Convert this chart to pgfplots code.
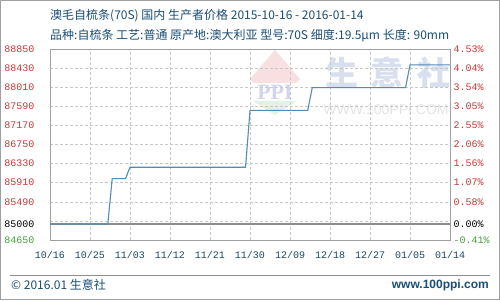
\documentclass[border=0pt]{standalone}
\usepackage{pgfplots}
\pgfplotsset{compat=1.18}
\usepackage{fontspec}
\setmainfont{Noto Sans CJK SC}
\newfontfamily\monof{Liberation Mono}
\newfontfamily\wmfont{Liberation Sans}
\newfontfamily\wmserif{Liberation Serif}
\definecolor{titleblue}{RGB}{26,78,117}
\definecolor{lblred}{RGB}{200,55,55}
\definecolor{lblgreen}{RGB}{70,160,60}
\definecolor{xlbl}{RGB}{30,72,100}
\definecolor{lineblue}{RGB}{80,140,180}
\definecolor{framegray}{RGB}{160,160,160}
\definecolor{gridgray}{RGB}{200,200,200}
\definecolor{basegray}{RGB}{140,140,140}
\definecolor{wmblue}{RGB}{216,224,237}
\definecolor{wmlav}{RGB}{208,214,236}
\definecolor{wmpink}{RGB}{249,224,224}
\definecolor{wmgreen}{RGB}{224,243,228}
\definecolor{wmgray}{RGB}{228,228,228}
\begin{document}
\begin{tikzpicture}
\fill[white] (0pt,0pt) rectangle (500pt,300pt);
% titles
\node[anchor=west, inner sep=0, text=titleblue, font=\fontsize{12}{14}\selectfont] at (50pt,284.5pt) {澳毛自梳条(70S) 国内 生产者价格 2015-10-16 - 2016-01-14};
\node[anchor=west, inner sep=0, text=titleblue, font=\fontsize{12}{14}\selectfont] at (50pt,264pt) {品种:自梳条 工艺:普通 原产地:澳大利亚 型号:70S 细度:19.5μm 长度: 90mm};
% watermark
\fill[wmpink] (250pt,221pt) -- (275pt,250pt) -- (300pt,221pt) -- (296pt,217pt) -- (254pt,217pt) -- cycle;
\fill[wmgreen] (253pt,199pt) -- (297pt,199pt) -- (275pt,185pt) -- cycle;
\node[text=wmlav, font=\wmserif\bfseries\fontsize{22}{22}\selectfont] at (275pt,208pt) {PPI};
\node[text=wmblue, font=\bfseries\fontsize{33}{33}\selectfont] at (342pt,227.5pt) {生};
\node[text=wmblue, font=\bfseries\fontsize{33}{33}\selectfont] at (387pt,227.5pt) {意};
\begin{scope}
\clip (400pt,200pt) rectangle (450pt,260pt);
\node[text=wmblue, font=\bfseries\fontsize{33}{33}\selectfont] at (434pt,227.5pt) {社};
\end{scope}
\node[text=wmgray, font=\wmfont\fontsize{14}{14}\selectfont] at (386pt,190pt) {WWW.100PPI.COM};
% footer
\draw[basegray, line width=0.8pt] (10pt,25pt) -- (490pt,25pt);
\node[anchor=west, inner sep=0, text=titleblue, font=\fontsize{12}{14}\selectfont] at (11pt,15pt) {© 2016.01 生意社};
\node[anchor=east, inner sep=0, text=titleblue, font=\wmfont\bfseries\fontsize{12}{14}\selectfont] at (489pt,15pt) {www.100ppi.com};
\begin{axis}[
  at={(50pt,60pt)}, anchor=south west, scale only axis,
  width=400pt, height=191pt,
  xmin=0, xmax=90, ymin=84650, ymax=88850,
  scaled y ticks=false,
  axis line style={framegray, line width=0.8pt},
  xtick={0,9,18,27,36,45,54,63,72,81,90},
  xticklabels={10/16,10/25,11/03,11/12,11/21,11/30,12/09,12/18,12/27,01/05,01/14},
  ytick={85070,85490,85910,86330,86750,87170,87590,88010,88430,88850},
  yticklabels={{},85490,85910,86330,86750,87170,87590,88010,88430,88850},
  extra y ticks={85000,84650},
  extra y tick labels={\textcolor{black}{85000},\textcolor{lblgreen}{84650}},
  extra y tick style={grid=none},
  xmajorgrids, ymajorgrids,
  major grid style={gridgray, line width=0.6pt, dash pattern=on 3pt off 2pt},
  major tick length=0pt,
  tick label style={font=\monof\fontsize{10}{12}\selectfont},
  yticklabel style={text=lblred, xshift=-12pt},
  xticklabel style={text=xlbl, yshift=-8pt},
]
\draw[basegray, line width=1.2pt] (axis cs:0,85000) -- (axis cs:90,85000);
\addplot[lineblue, line width=1.1pt] coordinates {
(0,85000) (13,85000) (14,86000) (17,86000) (18,86250) (44,86250)
(45,87500) (58,87500) (59,88000) (80,88000) (81,88500) (90,88500)
};
\end{axis}
\begin{axis}[
  at={(50pt,60pt)}, anchor=south west, scale only axis,
  width=400pt, height=191pt,
  xmin=0, xmax=90, ymin=84650, ymax=88850,
  scaled y ticks=false,
  hide x axis,
  axis y line*=right,
  y axis line style={draw=none},
  yticklabel pos=right,
  ytick={85490,85910,86330,86750,87170,87590,88010,88430,88850},
  yticklabels={0.58\%,1.07\%,1.56\%,2.06\%,2.55\%,3.05\%,3.54\%,4.04\%,4.53\%},
  extra y ticks={85000,84650},
  extra y tick labels={\textcolor{black}{0.00\%},\textcolor{lblgreen}{-0.41\%}},
  major tick length=0pt,
  tick label style={font=\monof\fontsize{10}{12}\selectfont},
  yticklabel style={text=lblred},
]
\end{axis}
\draw[framegray, line width=1pt] (0.5pt,0.5pt) rectangle (499.5pt,299.5pt);
\pgfresetboundingbox
\path[use as bounding box] (0pt,0pt) rectangle (500pt,300pt);
\end{tikzpicture}
\end{document}
